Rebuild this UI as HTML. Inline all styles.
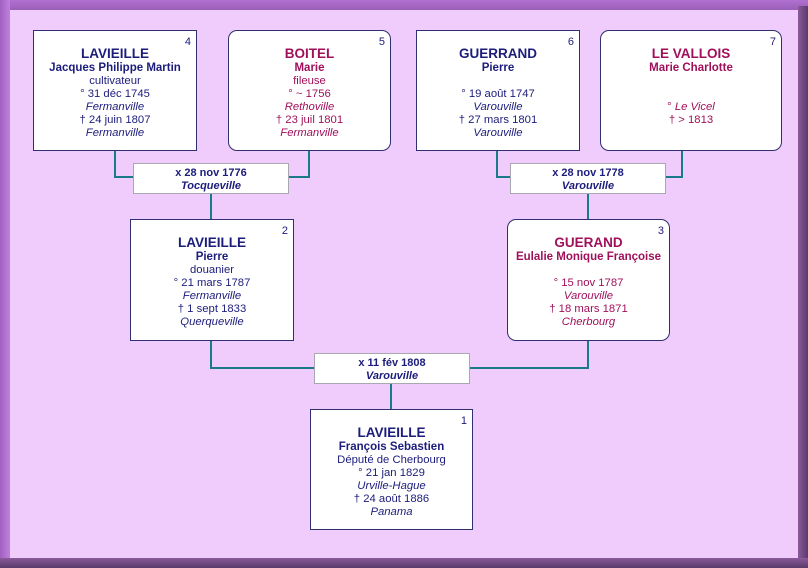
<!DOCTYPE html>
<html><head><meta charset="utf-8"><style>
*{margin:0;padding:0;box-sizing:border-box}
body{width:808px;height:568px;overflow:hidden;font-family:"Liberation Sans",Arial,sans-serif;background:#8a5a9a}
#frame{position:absolute;left:0;top:0;width:808px;height:568px;background:linear-gradient(180deg,#b070d0 0,#9a60b8 10px,#9a60b8 100%)}
#inner{position:absolute;left:10px;top:10px;width:788px;height:548px;background:#f0ccfc}
#rs{position:absolute;left:798px;top:6px;width:10px;height:562px;background:linear-gradient(90deg,#8a5a9a,#5a3a6a)}
#bs{position:absolute;left:0;top:558px;width:808px;height:10px;background:linear-gradient(180deg,#8a5a9a,#5a3a6a)}
#ls{position:absolute;left:0;top:0;width:10px;height:568px;background:linear-gradient(90deg,#a060c0,#c080e0)}
.b{position:absolute;background:#fff;border:1px solid #303070;text-align:center;font-size:11.3px;line-height:13px;color:#1c1c7c;padding-top:14px}
.f{border-radius:9px;color:#a0105a}
.b .n{font-size:13.5px;font-weight:bold;line-height:17px}
.b .g{font-weight:bold;font-size:11.5px}
.b i{display:block}
.b .num{position:absolute;right:5px;top:5px;font-size:11px;color:#1c1c7c}
.m{position:absolute;background:#fff;border:1px solid #a8a8b0;text-align:center;font-size:11px;line-height:13px;font-weight:bold;color:#1c1c7c;padding-top:3px;height:31px;width:156px}
.l{position:absolute;background:#1a7a8a}
</style></head><body>
<div id="frame"></div><div id="ls"></div><div id="inner"></div><div id="rs"></div><div id="bs"></div>

<div class="l" style="left:114px;top:150px;width:2px;height:28px"></div>
<div class="l" style="left:114px;top:176px;width:20px;height:2px"></div>
<div class="l" style="left:308px;top:150px;width:2px;height:28px"></div>
<div class="l" style="left:289px;top:176px;width:21px;height:2px"></div>
<div class="l" style="left:210px;top:193px;width:2px;height:27px"></div>

<div class="l" style="left:496px;top:150px;width:2px;height:28px"></div>
<div class="l" style="left:496px;top:176px;width:15px;height:2px"></div>
<div class="l" style="left:681px;top:150px;width:2px;height:28px"></div>
<div class="l" style="left:665px;top:176px;width:18px;height:2px"></div>
<div class="l" style="left:587px;top:193px;width:2px;height:27px"></div>

<div class="l" style="left:210px;top:340px;width:2px;height:29px"></div>
<div class="l" style="left:210px;top:367px;width:105px;height:2px"></div>
<div class="l" style="left:587px;top:340px;width:2px;height:29px"></div>
<div class="l" style="left:469px;top:367px;width:120px;height:2px"></div>
<div class="l" style="left:390px;top:383px;width:2px;height:27px"></div>

<div class="b" style="left:33px;top:30px;width:164px;height:121px"><span class="num">4</span><div class="n">LAVIEILLE</div><div class="g">Jacques Philippe Martin</div><div>cultivateur</div><div>° 31 déc 1745</div><i>Fermanville</i><div>† 24 juin 1807</div><i>Fermanville</i></div>
<div class="b f" style="left:228px;top:30px;width:163px;height:121px"><span class="num">5</span><div class="n">BOITEL</div><div class="g">Marie</div><div>fileuse</div><div>° ~ 1756</div><i>Rethoville</i><div>† 23 juil 1801</div><i>Fermanville</i></div>
<div class="b" style="left:416px;top:30px;width:164px;height:121px"><span class="num">6</span><div class="n">GUERRAND</div><div class="g">Pierre</div><div>&nbsp;</div><div>° 19 août 1747</div><i>Varouville</i><div>† 27 mars 1801</div><i>Varouville</i></div>
<div class="b f" style="left:600px;top:30px;width:182px;height:121px"><span class="num">7</span><div class="n">LE VALLOIS</div><div class="g">Marie Charlotte</div><div>&nbsp;</div><div>&nbsp;</div><div>° <i style="display:inline">Le Vicel</i></div><div>† &gt; 1813</div></div>

<div class="m" style="left:133px;top:163px">x 28 nov 1776<br><i>Tocqueville</i></div>
<div class="m" style="left:510px;top:163px">x 28 nov 1778<br><i>Varouville</i></div>

<div class="b" style="left:130px;top:219px;width:164px;height:122px"><span class="num">2</span><div class="n">LAVIEILLE</div><div class="g">Pierre</div><div>douanier</div><div>° 21 mars 1787</div><i>Fermanville</i><div>† 1 sept 1833</div><i>Querqueville</i></div>
<div class="b f" style="left:507px;top:219px;width:163px;height:122px"><span class="num">3</span><div class="n">GUERAND</div><div class="g">Eulalie Monique Françoise</div><div>&nbsp;</div><div>° 15 nov 1787</div><i>Varouville</i><div>† 18 mars 1871</div><i>Cherbourg</i></div>

<div class="m" style="left:314px;top:353px">x 11 fév 1808<br><i>Varouville</i></div>

<div class="b" style="left:310px;top:409px;width:163px;height:121px"><span class="num">1</span><div class="n">LAVIEILLE</div><div class="g">François Sebastien</div><div>Député de Cherbourg</div><div>° 21 jan 1829</div><i>Urville-Hague</i><div>† 24 août 1886</div><i>Panama</i></div>
</body></html>
